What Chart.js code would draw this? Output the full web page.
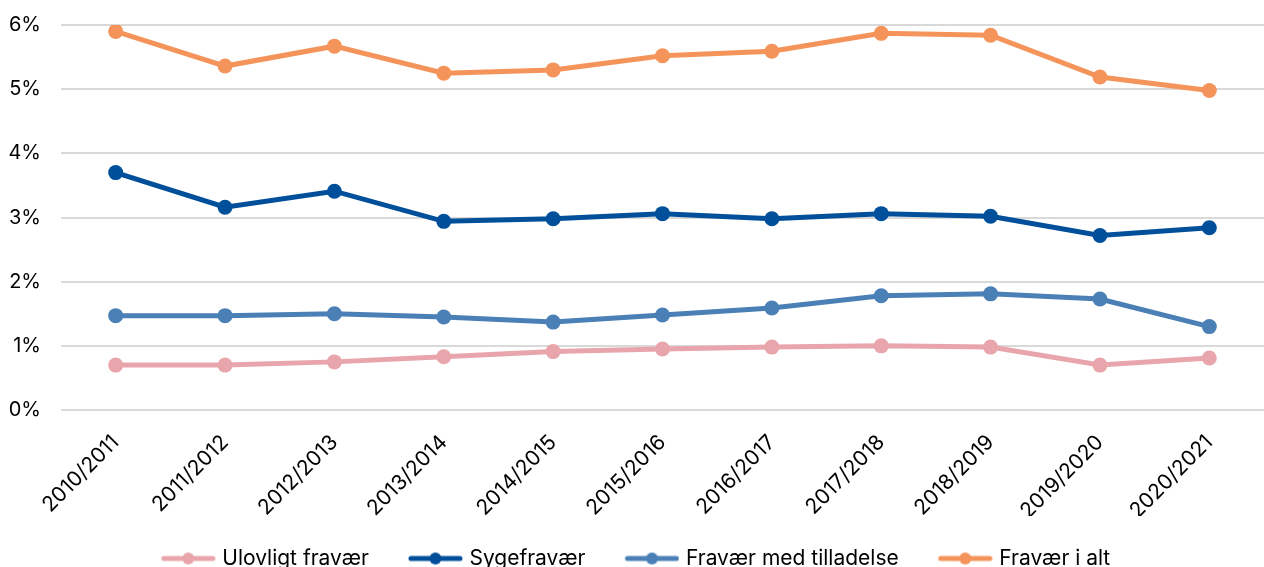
<!DOCTYPE html>
<html>
<head>
<meta charset="utf-8">
<script src="https://cdn.jsdelivr.net/npm/chart.js@4"></script>
<style>
  html, body { margin: 0; padding: 0; background: #fff; overflow: hidden; }
  #wrap { position: relative; width: 1264px; height: 579px; }
</style>
</head>
<body>
<div id="wrap"><canvas id="absenceChart"></canvas></div>
<script>
// School years on the x axis
const years = ['2010/2011', '2011/2012', '2012/2013', '2013/2014', '2014/2015', '2015/2016',
               '2016/2017', '2017/2018', '2018/2019', '2019/2020', '2020/2021'];

// Values in percent
const ulovligt = [0.70, 0.70, 0.75, 0.83, 0.91, 0.95, 0.98, 1.00, 0.98, 0.70, 0.81];
const syge = [3.70, 3.16, 3.41, 2.94, 2.98, 3.06, 2.98, 3.06, 3.02, 2.72, 2.84];
const tilladelse = [1.47, 1.47, 1.50, 1.45, 1.37, 1.48, 1.59, 1.78, 1.81, 1.73, 1.30];
const iAlt = [5.90, 5.36, 5.67, 5.25, 5.30, 5.52, 5.59, 5.87, 5.84, 5.19, 4.98];

const yTicks = [0, 1, 2, 3, 4, 5, 6];

const series = [
    { label: 'Ulovligt fravær', data: ulovligt, color: '#E8A6AC' },
    { label: 'Sygefravær', data: syge, color: '#004F9A' },
    { label: 'Fravær med tilladelse', data: tilladelse, color: '#4A80B6' },
    { label: 'Fravær i alt', data: iAlt, color: '#F5945A' }
];

// line-with-dot marker for the legend (blank strip on the left = gap to previous item)
function legendMarker(color) {
    const c = document.createElement('canvas');
    c.width = 66;
    c.height = 14;
    const g = c.getContext('2d');
    g.strokeStyle = color;
    g.lineWidth = 5;
    g.lineCap = 'round';
    g.beginPath();
    g.moveTo(14, 7);
    g.lineTo(63, 7);
    g.stroke();
    g.fillStyle = color;
    g.beginPath();
    g.arc(38.5, 7, 6, 0, Math.PI * 2);
    g.fill();
    return c;
}

const markers = series.map(s => legendMarker(s.color));

const ctx = document.getElementById('absenceChart').getContext('2d');
new Chart(ctx, {
    type: 'line',
    data: {
        labels: years,
        datasets: series.map(s => ({
            label: s.label,
            data: s.data,
            borderColor: s.color,
            backgroundColor: s.color,
            borderWidth: 5,
            pointRadius: 7.5,
            pointBackgroundColor: s.color,
            pointBorderWidth: 0,
            tension: 0,
            fill: false
        }))
    },
    options: {
        responsive: true,
        maintainAspectRatio: false,
        animation: false,
        layout: {
            autoPadding: false,
            padding: { top: 0, right: 0, left: 0, bottom: 0 }
        },
        plugins: {
            tooltip: { enabled: false },
            legend: {
                position: 'bottom',
                labels: {
                    font: { family: 'Inter', size: 21 },
                    color: '#000',
                    usePointStyle: true,
                    pointStyleWidth: 58,
                    padding: 32,
                    generateLabels: function (chart) {
                        return chart.data.datasets.map((ds, i) => ({
                            text: ds.label,
                            pointStyle: markers[i],
                            fillStyle: ds.borderColor,
                            strokeStyle: ds.borderColor,
                            lineWidth: 0,
                            hidden: false,
                            datasetIndex: i,
                            fontColor: '#000'
                        }));
                    }
                }
            }
        },
        scales: {
            x: {
                offset: true,
                grid: { display: false },
                border: { display: false },
                ticks: {
                    font: { family: 'Inter', size: 21 },
                    color: '#000',
                    maxRotation: 45,
                    minRotation: 45,
                    autoSkip: false,
                    padding: 12
                },
                afterFit: function (axis) {
                    axis.height = 106;
                    axis.paddingLeft = 0;
                    axis.paddingRight = 0;
                }
            },
            y: {
                min: 0,
                max: 6,
                afterBuildTicks: function (axis) {
                    axis.ticks = yTicks.map(v => ({ value: v }));
                },
                afterFit: function (axis) {
                    axis.width = 61;
                    axis.paddingTop = 25;
                },
                grid: {
                    color: '#d9d9d9',
                    lineWidth: 2,
                    drawTicks: false
                },
                border: { display: false },
                ticks: {
                    font: { family: 'Inter', size: 20 },
                    color: '#000',
                    padding: 20,
                    callback: function (value) {
                        return value + '%';
                    }
                }
            }
        }
    }
});
</script>
</body>
</html>
